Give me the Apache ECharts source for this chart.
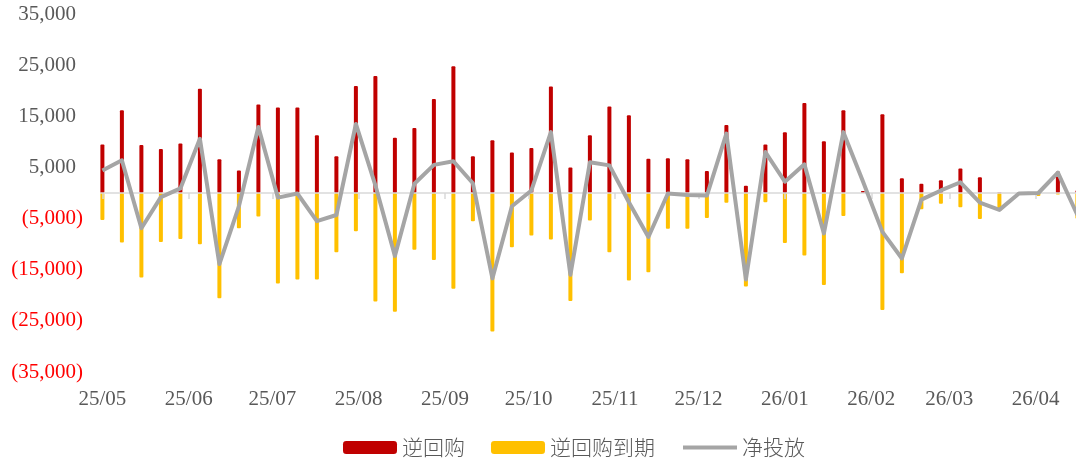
<!DOCTYPE html>
<html>
<head>
<meta charset="utf-8">
<script src="https://cdn.jsdelivr.net/npm/echarts@6/dist/echarts.min.js"></script>
<style>
  html, body { margin: 0; padding: 0; background: #fff; }
  #chart { width: 1076px; height: 461px; }
</style>
</head>
<body>
<div id="chart"></div>
<script>
// weekly dates (Thursdays)
const weeks = [
  '2025-05-01', '2025-05-08', '2025-05-15', '2025-05-22', '2025-05-29',
  '2025-06-05', '2025-06-12', '2025-06-19', '2025-06-26',
  '2025-07-03', '2025-07-10', '2025-07-17', '2025-07-24', '2025-07-31',
  '2025-08-07', '2025-08-14', '2025-08-21', '2025-08-28',
  '2025-09-04', '2025-09-11', '2025-09-18', '2025-09-25',
  '2025-10-02', '2025-10-09', '2025-10-16', '2025-10-23', '2025-10-30',
  '2025-11-06', '2025-11-13', '2025-11-20', '2025-11-27',
  '2025-12-04', '2025-12-11', '2025-12-18', '2025-12-25',
  '2026-01-01', '2026-01-08', '2026-01-15', '2026-01-22', '2026-01-29',
  '2026-02-05', '2026-02-12', '2026-02-19', '2026-02-26',
  '2026-03-05', '2026-03-12', '2026-03-19', '2026-03-26',
  '2026-04-02', '2026-04-09', '2026-04-16'
];

// 逆回购
const repo = [
  9500, 16200, 9400, 8600, 9700,
  20400, 6600, 4400, 17300,
  16700, 16700, 11300, 7200, 20900,
  22900, 10800, 12700, 18400,
  24800, 7200, 10300, 7900,
  8800, 20800, 5000, 11300, 16900,
  15200, 6700, 6800, 6600,
  4300, 13300, 1400, 9500,
  11900, 17600, 10100, 16200, 400,
  15400, 2900, 1800, 2500,
  4800, 3100, 100, 100,
  200, 4200, 500
];

// 逆回购到期
const maturity = [
  -5300, -9700, -16500, -9600, -9000,
  -10000, -20600, -6900, -4600,
  -17700, -16900, -16900, -11600, -7500,
  -21200, -23200, -11100, -13100,
  -18700, -5500, -27100, -10600,
  -8300, -9100, -21100, -5400, -11600,
  -17100, -15500, -7000, -7000,
  -4900, -1900, -18300, -1800,
  -9800, -12200, -18000, -4500, 0,
  -22900, -15700, -3200, -2100,
  -2800, -5100, -3500, -200,
  -600, -300, -5000
];

// 净投放
const net = [
  4400, 6400, -6900, -800, 900,
  10600, -13900, -2600, 12900,
  -900, -100, -5500, -4300, 13500,
  1500, -12300, 1800, 5500,
  6200, 1900, -16700, -2600,
  500, 11900, -16000, 6000, 5400,
  -1800, -8600, -100, -400,
  -500, 11600, -16900, 8000,
  2200, 5600, -7900, 11900, 2300,
  -7600, -12800, -1300, 500,
  2100, -1900, -3300, -100,
  0, 4000, -4300
];

// x axis labels at month starts
const monthTicks = [
  '2025-05-01', '2025-06-01', '2025-07-01', '2025-08-01', '2025-09-01', '2025-10-01',
  '2025-11-01', '2025-12-01', '2026-01-01', '2026-02-01', '2026-03-01', '2026-04-01'
];

const toTime = s => {
  const p = s.split('-').map(Number);
  return new Date(p[0], p[1] - 1, p[2]).getTime();
};
const DAY = 86400000;
const xMin = toTime('2025-04-30') + DAY / 2;
const xMax = toTime('2026-04-15') + DAY / 2;
const tickTimes = monthTicks.map(toTime);
const pair = vals => weeks.map((w, i) => [toTime(w), vals[i]]);

const serif = 'Liberation Serif';
const cjk = 'Noto Sans CJK SC';

const chart = echarts.init(document.getElementById('chart'));
chart.setOption({
  animation: false,
  grid: { left: 101, right: 0, top: 14, bottom: 89 },
  legend: {
    left: 343,
    top: 437,
    padding: 0,
    itemWidth: 54,
    itemHeight: 13,
    itemGap: 26,
    textStyle: { fontSize: 21, color: '#595959', fontFamily: cjk, fontWeight: 300 },
    data: [
      '逆回购',
      '逆回购到期',
      { name: '净投放', itemStyle: { opacity: 0 }, lineStyle: { width: 4 } }
    ]
  },
  xAxis: [
    {
      type: 'value',
      min: xMin,
      max: xMax,
      axisLine: { show: false, onZero: false },
      axisTick: { show: false },
      splitLine: { show: false },
      axisLabel: {
        customValues: tickTimes,
        margin: 17,
        hideOverlap: false,
        fontSize: 21,
        fontFamily: serif,
        color: '#595959',
        formatter: v => {
          const d = new Date(v);
          return String(d.getFullYear()).slice(2) + '/' + String(d.getMonth() + 1).padStart(2, '0');
        }
      }
    },
    {
      type: 'value',
      position: 'bottom',
      min: xMin,
      max: xMax,
      z: 3,
      axisLine: { show: true, onZero: true, lineStyle: { color: '#d9d9d9', width: 1.5 } },
      axisTick: { show: true, customValues: tickTimes, length: 6, lineStyle: { color: '#d9d9d9', width: 1.5 } },
      axisLabel: { show: false },
      splitLine: { show: false }
    }
  ],
  yAxis: {
    type: 'value',
    min: -35000,
    max: 35000,
    interval: 10000,
    axisLine: { show: false },
    axisTick: { show: false },
    splitLine: { show: false },
    axisLabel: {
      margin: 18,
      formatter: v => {
        const s = Math.abs(v).toString().replace(/\B(?=(\d{3})+(?!\d))/g, ',');
        return v < 0 ? '{n|(' + s + ')}' : '{p|' + s + '}{h|)}';
      },
      rich: {
        p: { fontSize: 21, fontFamily: serif, color: '#595959' },
        n: { fontSize: 21, fontFamily: serif, color: '#ff0000' },
        h: { fontSize: 21, fontFamily: serif, color: 'rgba(0,0,0,0)' }
      }
    }
  },
  series: [
    {
      name: '逆回购',
      type: 'bar',
      xAxisIndex: 0,
      barWidth: 4,
      barGap: '-100%',
      itemStyle: { color: '#c00000', borderRadius: 1 },
      data: pair(repo)
    },
    {
      name: '逆回购到期',
      type: 'bar',
      xAxisIndex: 0,
      barWidth: 4,
      barGap: '-100%',
      itemStyle: { color: '#ffc000', borderRadius: 1 },
      data: pair(maturity)
    },
    {
      name: '净投放',
      type: 'line',
      xAxisIndex: 0,
      symbol: 'none',
      z: 5,
      lineStyle: { color: '#a5a5a5', width: 4, join: 'round' },
      itemStyle: { color: '#a5a5a5' },
      data: pair(net)
    }
  ]
});
</script>
</body>
</html>
